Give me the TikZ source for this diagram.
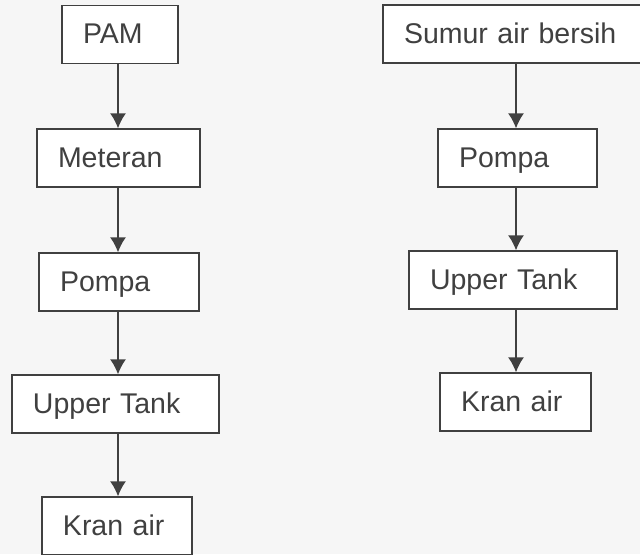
\documentclass[tikz,border=0pt]{standalone}
\usepackage{fontspec}
\setmainfont{Liberation Sans}
\usetikzlibrary{arrows.meta}
\definecolor{linegray}{HTML}{404040}
\definecolor{paper}{HTML}{F6F6F6}

\begin{document}
\begin{tikzpicture}[x=0.4pt, y=-0.4pt,
	box/.style={shape=rectangle, draw=linegray, fill=white, line width=0.55pt, minimum height=23.2pt, inner xsep=8.4pt, inner ysep=0pt, text height=0.72em, text depth=0pt, align=left, text=linegray, font=\fontsize{11.4}{13}\selectfont},
	flow/.style={draw=linegray, line width=0.55pt, -{Latex[length=6pt, width=6.4pt]}}]
	% Page and columns:
	\fill[paper] (0, 0) rectangle (640, 554);
	\useasboundingbox (0, 0) rectangle (640, 554);
	\coordinate (lcol) at (118, 0);
	\coordinate (rcol) at (516, 0);
	% Left chain:
	\node[box, text width=29.6pt] (pam) at (120, 34.5){PAM};
	\node[box, text width=48.4pt] (meteran) at (118.5, 158){Meteran};
	\node[box, text width=47.2pt] (pompaL) at (119, 282){Pompa};
	\node[box, text width=66pt] (upperL) at (115.5, 404){Upper Tank};
	\node[box, text width=43.2pt] (kranL) at (117, 526){Kran air};
	% Right chain:
	\node[box, text width=87.2pt] (sumur) at (513, 34){Sumur air bersih};
	\node[box, text width=46.8pt] (pompaR) at (517.5, 158){Pompa};
	\node[box, text width=66.4pt] (upperR) at (513, 280){Upper Tank};
	\node[box, text width=43.6pt] (kranR) at (515.5, 402){Kran air};
	% Arrows:
	\draw[flow] (pam.south -| lcol) -- (meteran.north -| lcol);
	\draw[flow] (meteran.south -| lcol) -- (pompaL.north -| lcol);
	\draw[flow] (pompaL.south -| lcol) -- (upperL.north -| lcol);
	\draw[flow] (upperL.south -| lcol) -- (kranL.north -| lcol);
	\draw[flow] (sumur.south -| rcol) -- (pompaR.north -| rcol);
	\draw[flow] (pompaR.south -| rcol) -- (upperR.north -| rcol);
	\draw[flow] (upperR.south -| rcol) -- (kranR.north -| rcol);
\end{tikzpicture}
\end{document}
